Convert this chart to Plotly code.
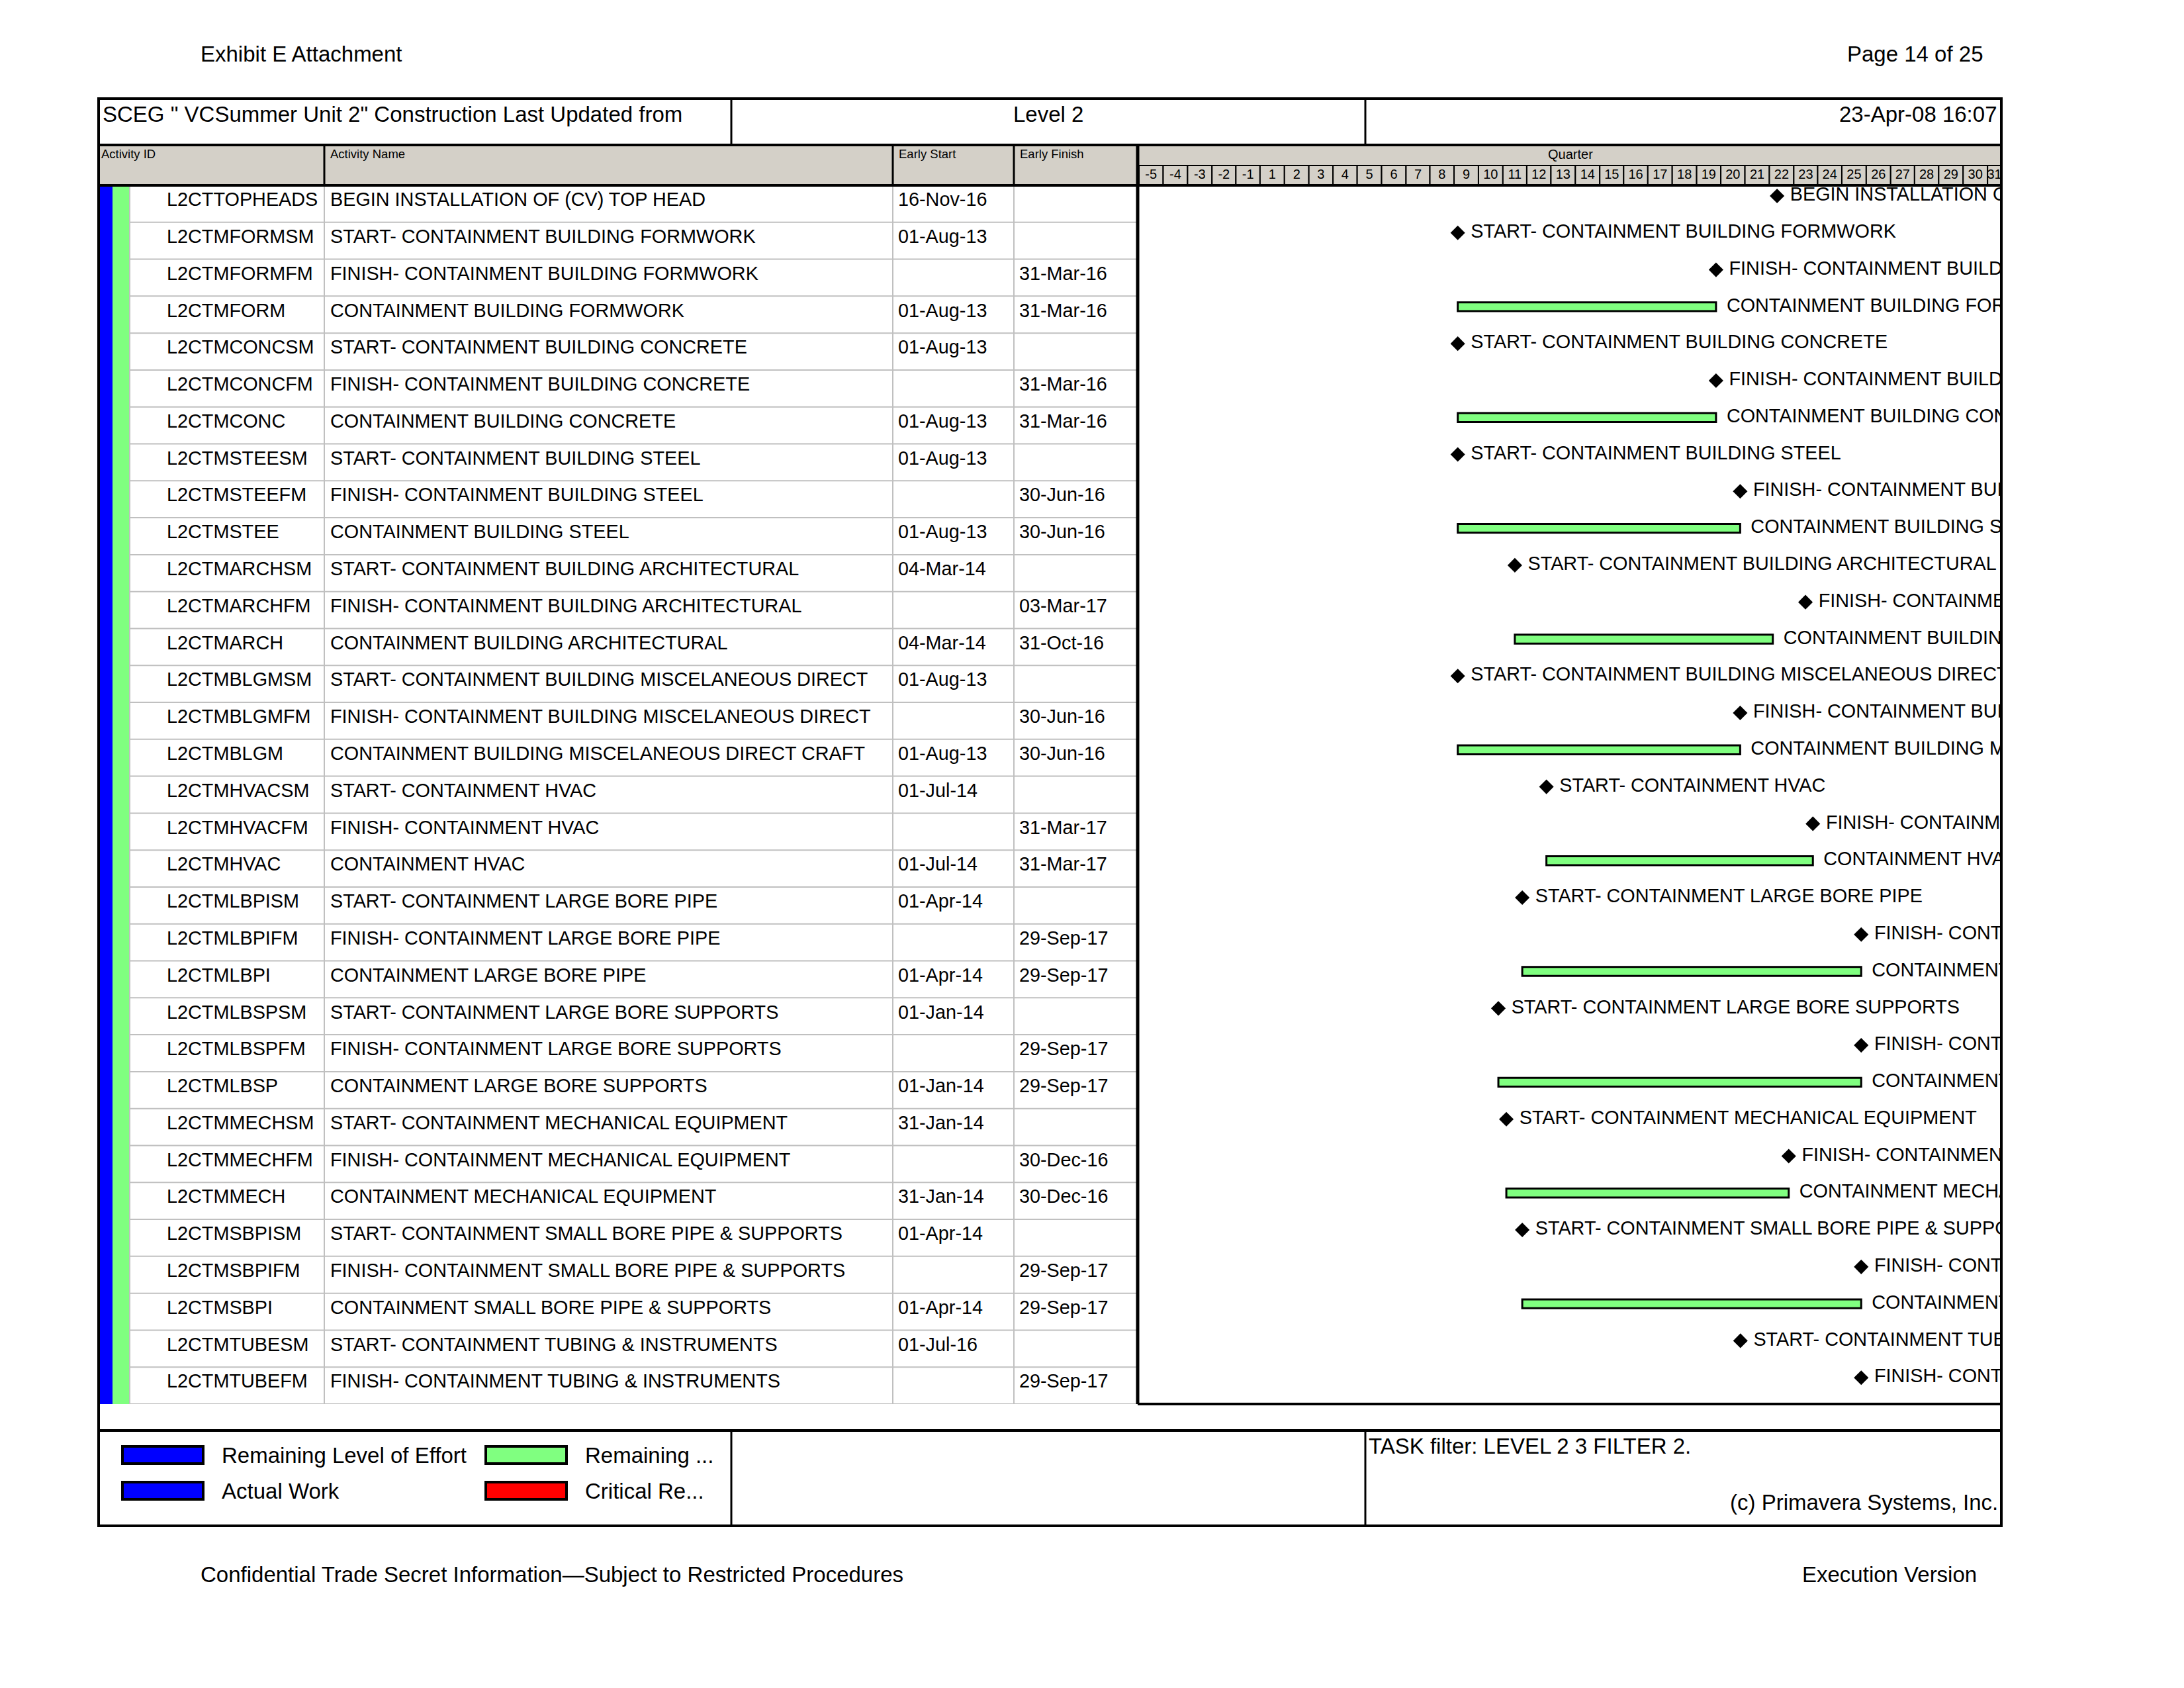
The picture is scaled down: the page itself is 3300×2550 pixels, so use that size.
import plotly.graph_objects as go
from datetime import datetime

# ---------------- data ----------------
activity_ids = ["L2CTTOPHEADS", "L2CTMFORMSM", "L2CTMFORMFM", "L2CTMFORM", "L2CTMCONCSM",
                "L2CTMCONCFM", "L2CTMCONC", "L2CTMSTEESM", "L2CTMSTEEFM", "L2CTMSTEE",
                "L2CTMARCHSM", "L2CTMARCHFM", "L2CTMARCH", "L2CTMBLGMSM", "L2CTMBLGMFM",
                "L2CTMBLGM", "L2CTMHVACSM", "L2CTMHVACFM", "L2CTMHVAC", "L2CTMLBPISM",
                "L2CTMLBPIFM", "L2CTMLBPI", "L2CTMLBSPSM", "L2CTMLBSPFM", "L2CTMLBSP",
                "L2CTMMECHSM", "L2CTMMECHFM", "L2CTMMECH", "L2CTMSBPISM", "L2CTMSBPIFM",
                "L2CTMSBPI", "L2CTMTUBESM", "L2CTMTUBEFM"]

activity_names = [
    "BEGIN INSTALLATION OF (CV) TOP HEAD",
    "START- CONTAINMENT BUILDING FORMWORK",
    "FINISH- CONTAINMENT BUILDING FORMWORK",
    "CONTAINMENT BUILDING FORMWORK",
    "START- CONTAINMENT BUILDING CONCRETE",
    "FINISH- CONTAINMENT BUILDING CONCRETE",
    "CONTAINMENT BUILDING CONCRETE",
    "START- CONTAINMENT BUILDING STEEL",
    "FINISH- CONTAINMENT BUILDING STEEL",
    "CONTAINMENT BUILDING STEEL",
    "START- CONTAINMENT BUILDING ARCHITECTURAL",
    "FINISH- CONTAINMENT BUILDING ARCHITECTURAL",
    "CONTAINMENT BUILDING ARCHITECTURAL",
    "START- CONTAINMENT BUILDING MISCELANEOUS DIRECT",
    "FINISH- CONTAINMENT BUILDING MISCELANEOUS DIRECT",
    "CONTAINMENT BUILDING MISCELANEOUS DIRECT CRAFT",
    "START- CONTAINMENT HVAC",
    "FINISH- CONTAINMENT HVAC",
    "CONTAINMENT HVAC",
    "START- CONTAINMENT LARGE BORE PIPE",
    "FINISH- CONTAINMENT LARGE BORE PIPE",
    "CONTAINMENT LARGE BORE PIPE",
    "START- CONTAINMENT LARGE BORE SUPPORTS",
    "FINISH- CONTAINMENT LARGE BORE SUPPORTS",
    "CONTAINMENT LARGE BORE SUPPORTS",
    "START- CONTAINMENT MECHANICAL EQUIPMENT",
    "FINISH- CONTAINMENT MECHANICAL EQUIPMENT",
    "CONTAINMENT MECHANICAL EQUIPMENT",
    "START- CONTAINMENT SMALL BORE PIPE & SUPPORTS",
    "FINISH- CONTAINMENT SMALL BORE PIPE & SUPPORTS",
    "CONTAINMENT SMALL BORE PIPE & SUPPORTS",
    "START- CONTAINMENT TUBING & INSTRUMENTS",
    "FINISH- CONTAINMENT TUBING & INSTRUMENTS",
]

early_start = ["16-Nov-16", "01-Aug-13", "", "01-Aug-13", "01-Aug-13",
               "", "01-Aug-13", "01-Aug-13", "", "01-Aug-13",
               "04-Mar-14", "", "04-Mar-14", "01-Aug-13", "",
               "01-Aug-13", "01-Jul-14", "", "01-Jul-14", "01-Apr-14",
               "", "01-Apr-14", "01-Jan-14", "", "01-Jan-14",
               "31-Jan-14", "", "31-Jan-14", "01-Apr-14", "",
               "01-Apr-14", "01-Jul-16", ""]

early_finish = ["", "", "31-Mar-16", "31-Mar-16", "",
                "31-Mar-16", "31-Mar-16", "", "30-Jun-16", "30-Jun-16",
                "", "03-Mar-17", "31-Oct-16", "", "30-Jun-16",
                "30-Jun-16", "", "31-Mar-17", "31-Mar-17", "",
                "29-Sep-17", "29-Sep-17", "", "29-Sep-17", "29-Sep-17",
                "", "30-Dec-16", "30-Dec-16", "", "29-Sep-17",
                "29-Sep-17", "", "29-Sep-17"]

quarter_labels = ["-5", "-4", "-3", "-2", "-1", "1", "2", "3", "4", "5", "6", "7", "8", "9",
                  "10", "11", "12", "13", "14", "15", "16", "17", "18", "19", "20", "21",
                  "22", "23", "24", "25", "26", "27", "28", "29", "30", "31"]
timescale_start = "2010-04-18"     # start of quarter "-5"
timescale_end = "2019-03-11"       # right edge of the visible timescale

legend_labels = ["Remaining Level of Effort", "Actual Work", "Remaining ...", "Critical Re..."]
legend_colors = ["#0000FF", "#0000FF", "#80FF80", "#FF0000"]

# ---------------- geometry / style ----------------
OFF = 8                       # default page body margin
W, H = 3300 - 2 * OFF, 2550 - 2 * OFF
FONT = "Liberation Sans, Arial, sans-serif"
GRAY_HDR = "#D4D0C8"
GRID = "#C0C0C0"
GREEN = "#80FF80"
BLUE = "#0000FF"

# positions below are in page pixels
L, R, T, B = 149, 3024, 149, 2305
Y_TITLE = 219
Y_QROW = 250
Y_HDR = 280
Y_ROWS_END = 2121
Y_LEG = 2161
X_DIV1, X_DIV2 = 1105, 2063
COLS = [196, 490, 1349, 1532, 1717]
GX0 = 1721
n = len(activity_ids)
RH = (Y_ROWS_END - Y_HDR) / n
ROW_FS = 28.8


def xp(x):
    return (x - OFF) / W


def yp(y):
    return 1 - (y - OFF) / H


def parse(d):
    return datetime.strptime(d, "%d-%b-%y") if d else None


def add_months(d, m):
    y = d.year + (d.month - 1 + m) // 12
    mo = (d.month - 1 + m) % 12 + 1
    return d.replace(year=y, month=mo)


starts = [parse(s) for s in early_start]
finishes = [parse(f) for f in early_finish]

dy_table = -0.5 + 24 / RH
dy_gantt = -0.5 + 16 / RH

fig = go.Figure()

# ---- quarter timescale cells ----
q0 = datetime.strptime(timescale_start, "%Y-%m-%d")
q_end_vis = datetime.strptime(timescale_end, "%Y-%m-%d")
q_starts = [add_months(q0, 3 * k) for k in range(len(quarter_labels))]
q_ends = [add_months(q0, 3 * (k + 1)) for k in range(len(quarter_labels))]
fig.add_trace(go.Bar(
    orientation="h", y=[0] * len(q_starts),
    base=[d.strftime("%Y-%m-%d") for d in q_starts],
    x=[(e - s).total_seconds() * 1000 for s, e in zip(q_starts, q_ends)],
    width=1, marker=dict(color=GRAY_HDR, line=dict(color="black", width=2)),
    xaxis="x", yaxis="y2", hoverinfo="skip"))
fig.add_trace(go.Scatter(
    mode="text", x=[s + (min(e, q_end_vis) - s) / 2 for s, e in zip(q_starts, q_ends)],
    y=[0] * len(q_starts), text=quarter_labels, textposition="middle center",
    textfont=dict(family=FONT, size=20, color="black"), cliponaxis=False,
    xaxis="x", yaxis="y2", hoverinfo="skip"))

# ---- task bars ----
task_idx = [i for i in range(n) if starts[i] and finishes[i]]
fig.add_trace(go.Bar(
    orientation="h", y=[i + dy_gantt for i in task_idx],
    base=[starts[i].strftime("%Y-%m-%d") for i in task_idx],
    x=[(finishes[i] - starts[i]).total_seconds() * 1000 for i in task_idx],
    width=0.24, marker=dict(color=GREEN, line=dict(color="black", width=3)),
    xaxis="x", yaxis="y", hoverinfo="skip"))
fig.add_trace(go.Scatter(
    mode="text", x=[finishes[i] for i in task_idx], y=[i + dy_gantt for i in task_idx],
    text=["\u00a0\u00a0" + activity_names[i] for i in task_idx], textposition="middle right",
    textfont=dict(family=FONT, size=ROW_FS, color="black"),
    xaxis="x", yaxis="y", hoverinfo="skip"))

# ---- milestones ----
ms_idx = [i for i in range(n) if not (starts[i] and finishes[i])]
fig.add_trace(go.Scatter(
    mode="markers+text", x=[starts[i] or finishes[i] for i in ms_idx],
    y=[i + dy_gantt for i in ms_idx],
    marker=dict(symbol="diamond", size=17, color="black"),
    text=["\u00a0" + activity_names[i] for i in ms_idx], textposition="middle right",
    textfont=dict(family=FONT, size=ROW_FS, color="black"),
    xaxis="x", yaxis="y", hoverinfo="skip"))

# ---- table columns ----
col_values = [activity_ids, activity_names, early_start, early_finish]
col_pad = [56, 9, 8, 8]
for c in range(4):
    fig.add_trace(go.Scatter(
        mode="text", x=[col_pad[c]] * n, y=[i + dy_table for i in range(n)],
        text=col_values[c], textposition="middle right",
        textfont=dict(family=FONT, size=ROW_FS, color="black"),
        xaxis="x%d" % (c + 3), yaxis="y", hoverinfo="skip"))

shapes = []


def rect(x0, y0, x1, y1, fill=None, lc="black", lw=0, layer="below"):
    shapes.append(dict(type="rect", xref="paper", yref="paper", x0=xp(x0), x1=xp(x1),
                       y0=yp(y0), y1=yp(y1), fillcolor=fill or "rgba(0,0,0,0)",
                       line=dict(color=lc, width=lw), layer=layer))


def line(x0, y0, x1, y1, color="black", width=3, layer="above"):
    shapes.append(dict(type="line", xref="paper", yref="paper", x0=xp(x0), x1=xp(x1),
                       y0=yp(y0), y1=yp(y1), line=dict(color=color, width=width), layer=layer))


# header fills
rect(L, Y_TITLE, COLS[-1], Y_HDR, fill=GRAY_HDR)
rect(GX0, Y_TITLE, R, Y_QROW, fill=GRAY_HDR)
# color bands
rect(151, Y_HDR, 170, Y_ROWS_END, fill=BLUE)
rect(170, Y_HDR, 196, Y_ROWS_END, fill=GREEN)

# grid in table rows
for k in range(n):
    shapes.append(dict(type="line", xref="paper", yref="y", x0=xp(COLS[0]), x1=xp(COLS[-1]),
                       y0=k + 0.5, y1=k + 0.5, line=dict(color=GRID, width=2), layer="below"))
for x in COLS[:-1]:
    line(x, Y_HDR, x, Y_ROWS_END, color=GRID, width=2, layer="below")
for x in COLS[1:-1]:
    line(x, Y_TITLE, x, Y_HDR, width=3)

# frame lines
line(L, Y_TITLE, R, Y_TITLE, width=4)
line(L, Y_HDR, R, Y_HDR, width=4)
line(GX0, Y_QROW, R, Y_QROW, width=2)
line(1719, Y_TITLE, 1719, Y_ROWS_END, width=5)
line(1719, Y_ROWS_END, R, Y_ROWS_END, width=4)
line(L, Y_LEG, R, Y_LEG, width=4)
line(X_DIV1, T, X_DIV1, Y_TITLE, width=3)
line(X_DIV2, T, X_DIV2, Y_TITLE, width=3)
line(X_DIV1, Y_LEG, X_DIV1, B, width=3)
line(X_DIV2, Y_LEG, X_DIV2, B, width=3)
rect(L, T, R, B, lc="black", lw=4, layer="above")

# legend swatches
leg_pos = [(185, 2185), (185, 2239), (734, 2185), (734, 2239)]
for (x, y), col in zip(leg_pos, legend_colors):
    rect(x, y, x + 122, y + 26, fill=col, lc="black", lw=4, layer="above")

ann = []


def text(x, y, s, size, anchor="left"):
    ann.append(dict(xref="paper", yref="paper", x=xp(x), y=yp(y), text=s, showarrow=False,
                    xanchor=anchor, yanchor="middle",
                    font=dict(family=FONT, size=size, color="black")))


text(301, 82, "Exhibit E Attachment", 33)
text(2999, 82, "Page 14 of 25", 33, "right")
text(153, 173, "SCEG \" VCSummer Unit 2\" Construction Last Updated from", 33)
text((X_DIV1 + X_DIV2) / 2, 173, "Level 2", 33, "center")
text(3020, 173, "23-Apr-08 16:07", 33, "right")
text(151, 232, "Activity ID", 18.5)
text(497, 232, "Activity Name", 18.5)
text(1356, 232, "Early Start", 18.5)
text(1539, 232, "Early Finish", 18.5)
text((GX0 + R) / 2, 233, "Quarter", 20, "center")
for (x, y), lab in zip(leg_pos, legend_labels):
    text(x + 148, y + 13, lab, 33)
text(2066, 2184, "TASK filter: LEVEL 2 3 FILTER 2.", 33)
text(3021, 2269, "(c) Primavera Systems, Inc.", 33, "right")
text(301, 2378, "Confidential Trade Secret Information\u2014Subject to Restricted Procedures", 33)
text(2989, 2378, "Execution Version", 33, "right")

layout = dict(
    width=W, height=H, margin=dict(l=0, r=0, t=0, b=0),
    paper_bgcolor="white", plot_bgcolor="rgba(0,0,0,0)",
    showlegend=False, barmode="overlay",
    shapes=shapes, annotations=ann,
    xaxis=dict(type="date", domain=[xp(GX0), xp(R)], range=[timescale_start, timescale_end],
               visible=False, anchor="y", fixedrange=True),
    yaxis=dict(domain=[yp(Y_ROWS_END), yp(Y_HDR)], range=[n - 0.5, -0.5], visible=False,
               anchor="x", fixedrange=True),
    yaxis2=dict(domain=[yp(Y_HDR), yp(Y_QROW)], range=[-0.5, 0.5], visible=False,
                anchor="x", fixedrange=True),
)
for c in range(4):
    layout["xaxis%d" % (c + 3)] = dict(domain=[xp(COLS[c]), xp(COLS[c + 1])],
                                       range=[0, COLS[c + 1] - COLS[c]], visible=False,
                                       anchor="y", fixedrange=True)
fig.update_layout(**layout)
fig.write_html("out.html")
